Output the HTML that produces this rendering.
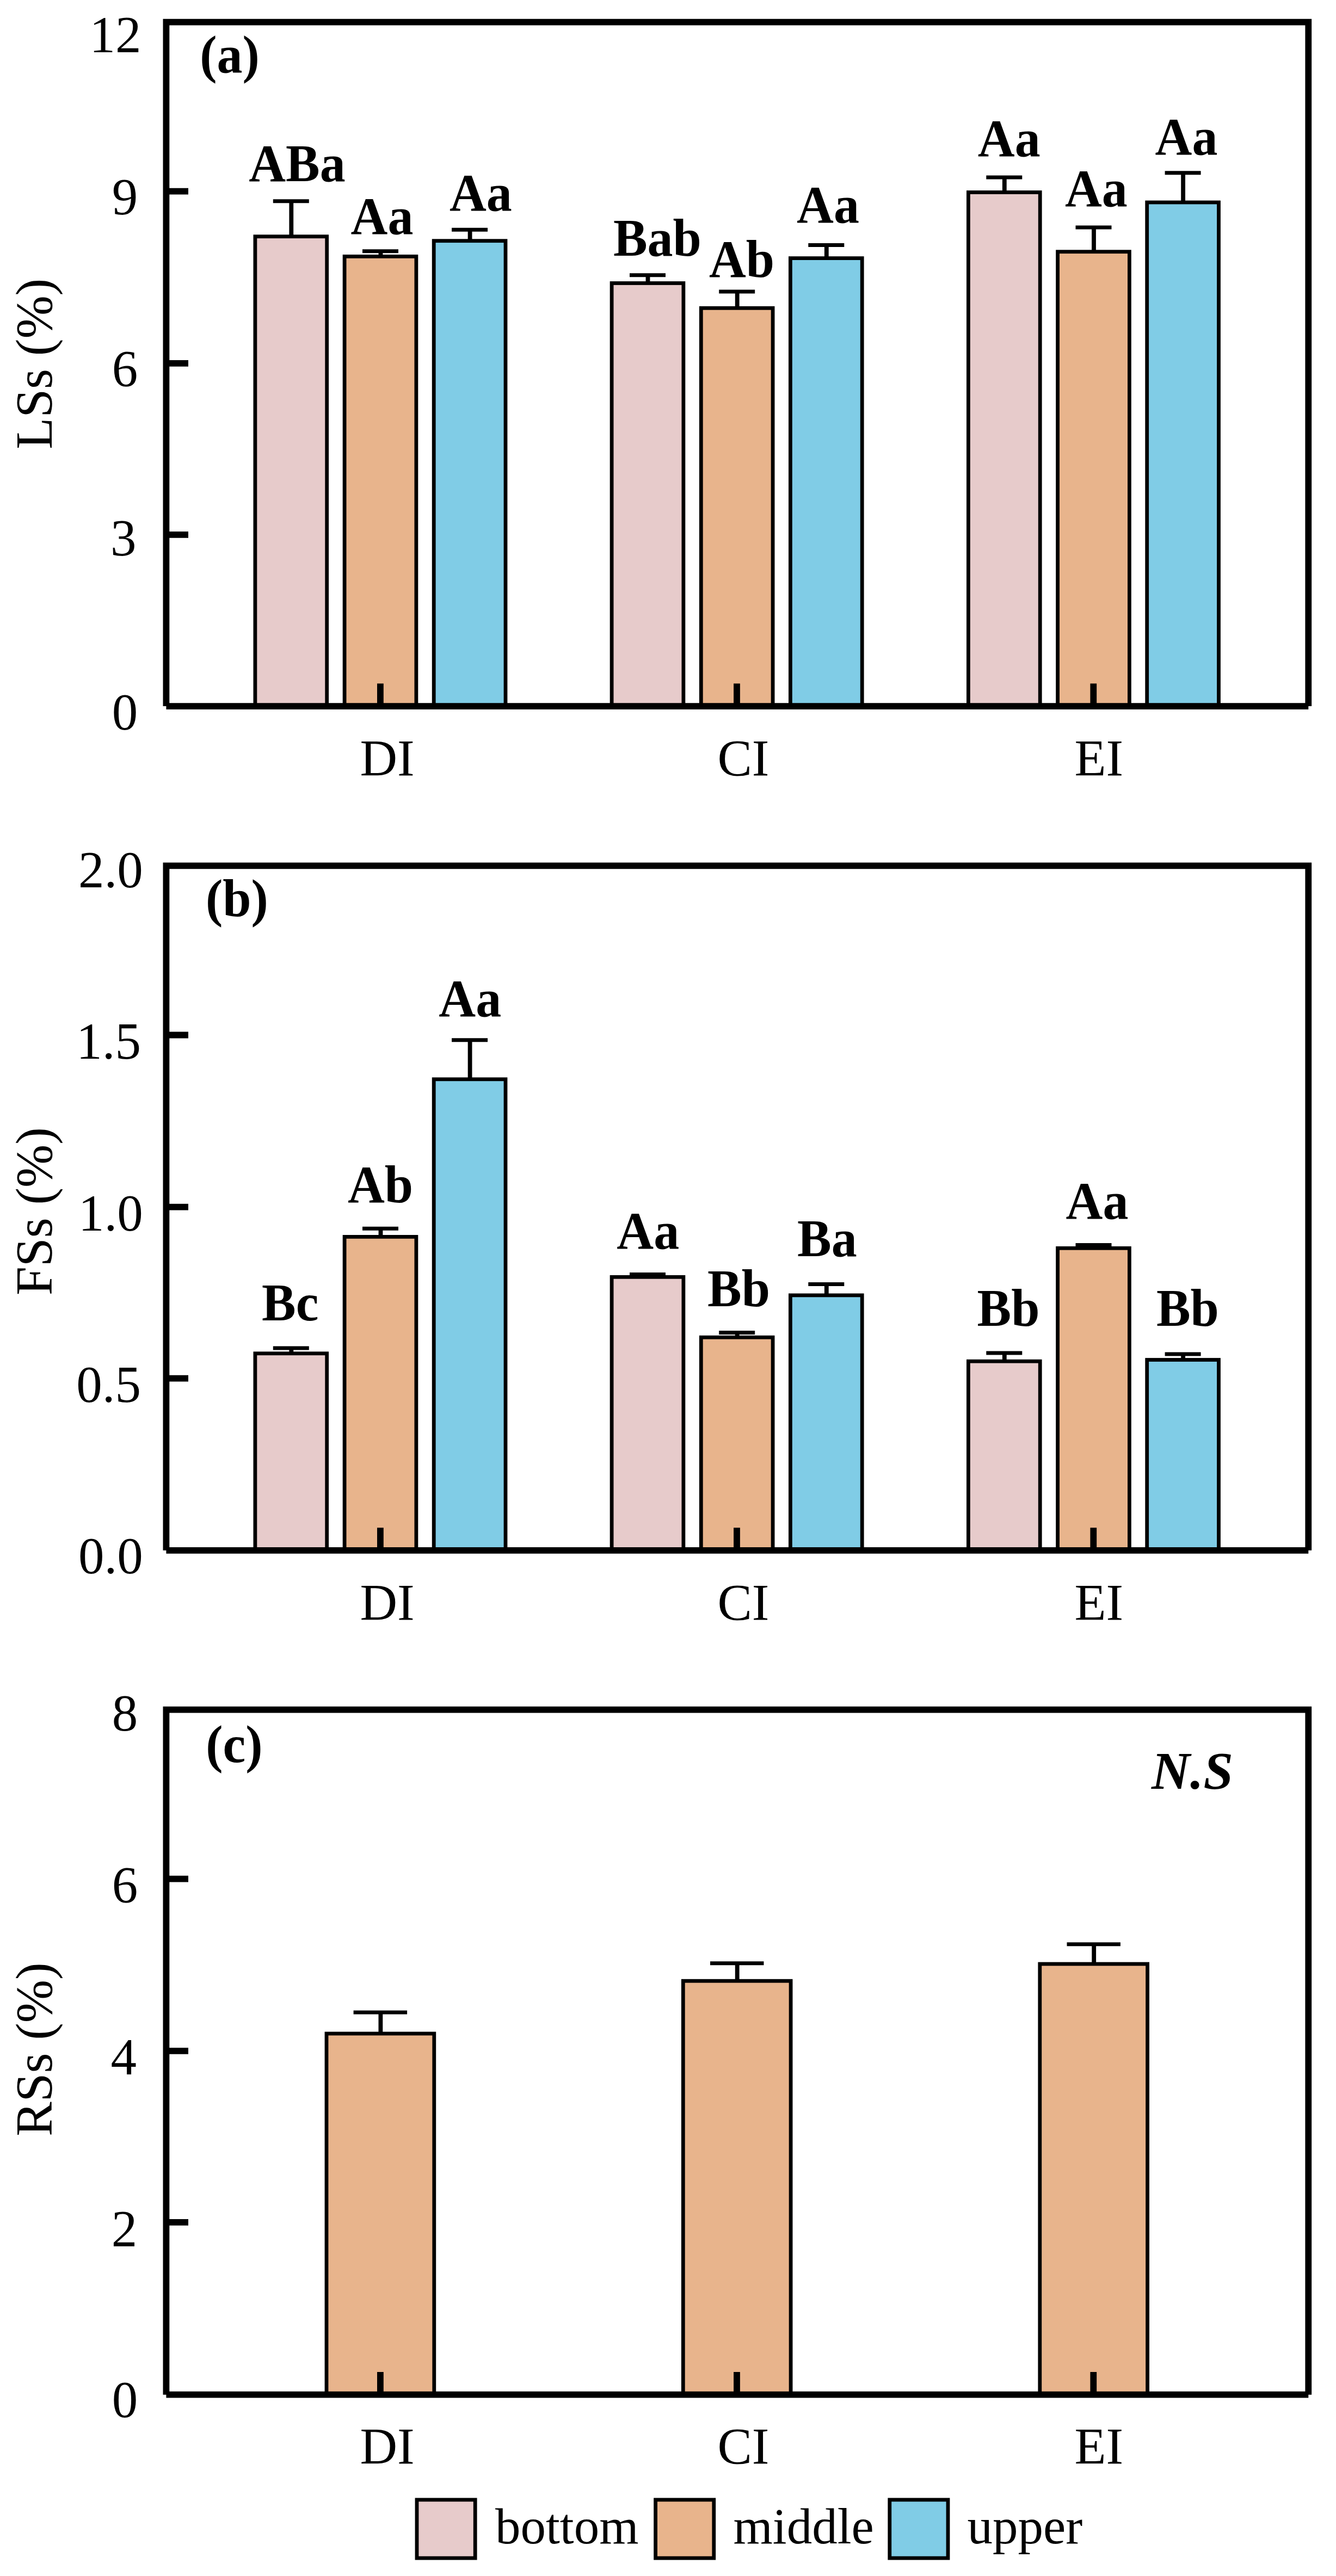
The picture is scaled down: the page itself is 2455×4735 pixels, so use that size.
<!DOCTYPE html>
<html><head><meta charset="utf-8"><title>Figure</title>
<style>html,body{margin:0;padding:0;background:#fff;overflow:hidden;width:2455px;height:4735px}svg{display:block}.r{font-family:"Liberation Serif",serif;font-size:95px;fill:#000}.b{font-family:"Liberation Serif",serif;font-size:94px;font-weight:bold;fill:#000}.bi{font-family:"Liberation Serif",serif;font-size:98px;font-weight:bold;font-style:italic;fill:#000}.l{font-family:"Liberation Serif",serif;font-size:93px;fill:#000}</style></head><body>
<svg width="2455" height="4735" viewBox="0 0 2455 4735">
<rect width="2455" height="4735" fill="#fff"/>
<rect x="468.9" y="434.7" width="131.8" height="863.4" fill="#E7CBCB" stroke="#000" stroke-width="6.8"/>
<path d="M535.3 434.7V369.7" fill="none" stroke="#000" stroke-width="7.8"/>
<path d="M501.8 369.7H567.8" fill="none" stroke="#000" stroke-width="7.0"/>
<rect x="633.1" y="471.4" width="131.8" height="826.7" fill="#E8B48C" stroke="#000" stroke-width="6.8"/>
<path d="M699.5 471.4V461.8" fill="none" stroke="#000" stroke-width="7.8"/>
<path d="M666.0 461.8H732.0" fill="none" stroke="#000" stroke-width="7.0"/>
<rect x="797.2" y="442.7" width="131.8" height="855.4" fill="#80CCE6" stroke="#000" stroke-width="6.8"/>
<path d="M863.6 442.7V422.3" fill="none" stroke="#000" stroke-width="7.8"/>
<path d="M830.1 422.3H896.1" fill="none" stroke="#000" stroke-width="7.0"/>
<rect x="1124.1" y="520.5" width="131.8" height="777.6" fill="#E7CBCB" stroke="#000" stroke-width="6.8"/>
<path d="M1190.5 520.5V505.8" fill="none" stroke="#000" stroke-width="7.8"/>
<path d="M1157.0 505.8H1223.0" fill="none" stroke="#000" stroke-width="7.0"/>
<rect x="1288.3" y="566.3" width="131.8" height="731.8" fill="#E8B48C" stroke="#000" stroke-width="6.8"/>
<path d="M1354.7 566.3V535.9" fill="none" stroke="#000" stroke-width="7.8"/>
<path d="M1321.2 535.9H1387.2" fill="none" stroke="#000" stroke-width="7.0"/>
<rect x="1452.4" y="474.6" width="131.8" height="823.5" fill="#80CCE6" stroke="#000" stroke-width="6.8"/>
<path d="M1518.8 474.6V450.6" fill="none" stroke="#000" stroke-width="7.8"/>
<path d="M1485.3 450.6H1551.3" fill="none" stroke="#000" stroke-width="7.0"/>
<rect x="1779.4" y="353.5" width="131.8" height="944.6" fill="#E7CBCB" stroke="#000" stroke-width="6.8"/>
<path d="M1845.8 353.5V325.9" fill="none" stroke="#000" stroke-width="7.8"/>
<path d="M1812.3 325.9H1878.3" fill="none" stroke="#000" stroke-width="7.0"/>
<rect x="1943.6" y="462.7" width="131.8" height="835.4" fill="#E8B48C" stroke="#000" stroke-width="6.8"/>
<path d="M2010.0 462.7V418.0" fill="none" stroke="#000" stroke-width="7.8"/>
<path d="M1976.5 418.0H2042.5" fill="none" stroke="#000" stroke-width="7.0"/>
<rect x="2107.7" y="372.0" width="131.8" height="926.1" fill="#80CCE6" stroke="#000" stroke-width="6.8"/>
<path d="M2174.1 372.0V317.8" fill="none" stroke="#000" stroke-width="7.8"/>
<path d="M2140.6 317.8H2206.6" fill="none" stroke="#000" stroke-width="7.0"/>
<line x1="698.9" y1="1298.1" x2="698.9" y2="1256.4" stroke="#000" stroke-width="11.8"/>
<line x1="1354.0" y1="1298.1" x2="1354.0" y2="1256.4" stroke="#000" stroke-width="11.8"/>
<line x1="2009.3" y1="1298.1" x2="2009.3" y2="1256.4" stroke="#000" stroke-width="11.8"/>
<path d="M305.4 1298.1V40.6H2404.3V1298.1" fill="none" stroke="#000" stroke-width="11.8" stroke-linejoin="miter"/>
<line x1="305.4" y1="1298.1" x2="2404.3" y2="1298.1" stroke="#000" stroke-width="11.8"/>
<line x1="305.4" y1="351.7" x2="346" y2="351.7" stroke="#000" stroke-width="11.8"/>
<line x1="305.4" y1="667.8" x2="346" y2="667.8" stroke="#000" stroke-width="11.8"/>
<line x1="305.4" y1="982.9" x2="346" y2="982.9" stroke="#000" stroke-width="11.8"/>
<text transform="translate(546.0 332.6) scale(1 1.025)" class="b" text-anchor="middle">ABa</text>
<text transform="translate(702.0 430.0) scale(1 1.025)" class="b" text-anchor="middle">Aa</text>
<text transform="translate(883.4 386.5) scale(1 1.025)" class="b" text-anchor="middle">Aa</text>
<text transform="translate(1207.9 470.4) scale(1 1.025)" class="b" text-anchor="middle">Bab</text>
<text transform="translate(1363.0 508.6) scale(1 1.025)" class="b" text-anchor="middle">Ab</text>
<text transform="translate(1521.5 408.5) scale(1 1.025)" class="b" text-anchor="middle">Aa</text>
<text transform="translate(1854.3 287.4) scale(1 1.025)" class="b" text-anchor="middle">Aa</text>
<text transform="translate(2014.4 378.5) scale(1 1.025)" class="b" text-anchor="middle">Aa</text>
<text transform="translate(2180.0 284.2) scale(1 1.025)" class="b" text-anchor="middle">Aa</text>
<rect x="468.9" y="2487.8" width="131.8" height="362.0" fill="#E7CBCB" stroke="#000" stroke-width="6.8"/>
<path d="M535.3 2487.8V2478.1" fill="none" stroke="#000" stroke-width="7.8"/>
<path d="M501.8 2478.1H567.8" fill="none" stroke="#000" stroke-width="7.0"/>
<rect x="633.1" y="2273.4" width="131.8" height="576.4" fill="#E8B48C" stroke="#000" stroke-width="6.8"/>
<path d="M699.5 2273.4V2258.2" fill="none" stroke="#000" stroke-width="7.8"/>
<path d="M666.0 2258.2H732.0" fill="none" stroke="#000" stroke-width="7.0"/>
<rect x="797.2" y="1983.8" width="131.8" height="866.0" fill="#80CCE6" stroke="#000" stroke-width="6.8"/>
<path d="M863.6 1983.8V1911.7" fill="none" stroke="#000" stroke-width="7.8"/>
<path d="M830.1 1911.7H896.1" fill="none" stroke="#000" stroke-width="7.0"/>
<rect x="1124.1" y="2347.3" width="131.8" height="502.5" fill="#E7CBCB" stroke="#000" stroke-width="6.8"/>
<path d="M1190.5 2347.3V2342.5" fill="none" stroke="#000" stroke-width="7.8"/>
<path d="M1157.0 2342.5H1223.0" fill="none" stroke="#000" stroke-width="7.0"/>
<rect x="1288.3" y="2458.2" width="131.8" height="391.6" fill="#E8B48C" stroke="#000" stroke-width="6.8"/>
<path d="M1354.7 2458.2V2449.4" fill="none" stroke="#000" stroke-width="7.8"/>
<path d="M1321.2 2449.4H1387.2" fill="none" stroke="#000" stroke-width="7.0"/>
<rect x="1452.4" y="2380.9" width="131.8" height="468.9" fill="#80CCE6" stroke="#000" stroke-width="6.8"/>
<path d="M1518.8 2380.9V2360.5" fill="none" stroke="#000" stroke-width="7.8"/>
<path d="M1485.3 2360.5H1551.3" fill="none" stroke="#000" stroke-width="7.0"/>
<rect x="1779.4" y="2502.2" width="131.8" height="347.6" fill="#E7CBCB" stroke="#000" stroke-width="6.8"/>
<path d="M1845.8 2502.2V2487.1" fill="none" stroke="#000" stroke-width="7.8"/>
<path d="M1812.3 2487.1H1878.3" fill="none" stroke="#000" stroke-width="7.0"/>
<rect x="1943.6" y="2294.3" width="131.8" height="555.5" fill="#E8B48C" stroke="#000" stroke-width="6.8"/>
<path d="M2010.0 2294.3V2288.6" fill="none" stroke="#000" stroke-width="7.8"/>
<path d="M1976.5 2288.6H2042.5" fill="none" stroke="#000" stroke-width="7.0"/>
<rect x="2107.7" y="2499.5" width="131.8" height="350.3" fill="#80CCE6" stroke="#000" stroke-width="6.8"/>
<path d="M2174.1 2499.5V2488.9" fill="none" stroke="#000" stroke-width="7.8"/>
<path d="M2140.6 2488.9H2206.6" fill="none" stroke="#000" stroke-width="7.0"/>
<line x1="698.9" y1="2849.8" x2="698.9" y2="2808.1" stroke="#000" stroke-width="11.8"/>
<line x1="1354.0" y1="2849.8" x2="1354.0" y2="2808.1" stroke="#000" stroke-width="11.8"/>
<line x1="2009.3" y1="2849.8" x2="2009.3" y2="2808.1" stroke="#000" stroke-width="11.8"/>
<path d="M305.4 2849.8V1591.4H2404.3V2849.8" fill="none" stroke="#000" stroke-width="11.8" stroke-linejoin="miter"/>
<line x1="305.4" y1="2849.8" x2="2404.3" y2="2849.8" stroke="#000" stroke-width="11.8"/>
<line x1="305.4" y1="1902.5" x2="346" y2="1902.5" stroke="#000" stroke-width="11.8"/>
<line x1="305.4" y1="2218.6" x2="346" y2="2218.6" stroke="#000" stroke-width="11.8"/>
<line x1="305.4" y1="2533.7" x2="346" y2="2533.7" stroke="#000" stroke-width="11.8"/>
<text transform="translate(533.2 2427.0) scale(1 1.025)" class="b" text-anchor="middle">Bc</text>
<text transform="translate(699.0 2210.0) scale(1 1.025)" class="b" text-anchor="middle">Ab</text>
<text transform="translate(863.7 1867.8) scale(1 1.025)" class="b" text-anchor="middle">Aa</text>
<text transform="translate(1190.8 2295.0) scale(1 1.025)" class="b" text-anchor="middle">Aa</text>
<text transform="translate(1357.5 2401.0) scale(1 1.025)" class="b" text-anchor="middle">Bb</text>
<text transform="translate(1519.8 2308.9) scale(1 1.025)" class="b" text-anchor="middle">Ba</text>
<text transform="translate(1853.0 2436.9) scale(1 1.025)" class="b" text-anchor="middle">Bb</text>
<text transform="translate(2016.0 2240.2) scale(1 1.025)" class="b" text-anchor="middle">Aa</text>
<text transform="translate(2182.4 2436.9) scale(1 1.025)" class="b" text-anchor="middle">Bb</text>
<rect x="600.0" y="3738.0" width="197.8" height="663.7" fill="#E8B48C" stroke="#000" stroke-width="6.8"/>
<path d="M699.4 3738.0V3699.0" fill="none" stroke="#000" stroke-width="7.8"/>
<path d="M649.6 3699.0H748.1" fill="none" stroke="#000" stroke-width="7.0"/>
<rect x="1255.3" y="3641.2" width="197.8" height="760.5" fill="#E8B48C" stroke="#000" stroke-width="6.8"/>
<path d="M1354.7 3641.2V3608.7" fill="none" stroke="#000" stroke-width="7.8"/>
<path d="M1305.0 3608.7H1403.5" fill="none" stroke="#000" stroke-width="7.0"/>
<rect x="1910.8" y="3610.0" width="197.8" height="791.7" fill="#E8B48C" stroke="#000" stroke-width="6.8"/>
<path d="M2010.2 3610.0V3573.8" fill="none" stroke="#000" stroke-width="7.8"/>
<path d="M1960.5 3573.8H2058.9" fill="none" stroke="#000" stroke-width="7.0"/>
<line x1="698.9" y1="4401.7" x2="698.9" y2="4360.0" stroke="#000" stroke-width="11.8"/>
<line x1="1354.0" y1="4401.7" x2="1354.0" y2="4360.0" stroke="#000" stroke-width="11.8"/>
<line x1="2009.3" y1="4401.7" x2="2009.3" y2="4360.0" stroke="#000" stroke-width="11.8"/>
<path d="M305.4 4401.7V3142.6H2404.3V4401.7" fill="none" stroke="#000" stroke-width="11.8" stroke-linejoin="miter"/>
<line x1="305.4" y1="4401.7" x2="2404.3" y2="4401.7" stroke="#000" stroke-width="11.8"/>
<line x1="305.4" y1="3453.7" x2="346" y2="3453.7" stroke="#000" stroke-width="11.8"/>
<line x1="305.4" y1="3769.8" x2="346" y2="3769.8" stroke="#000" stroke-width="11.8"/>
<line x1="305.4" y1="4084.9" x2="346" y2="4084.9" stroke="#000" stroke-width="11.8"/>
<text transform="translate(422.0 133.0) scale(1 1.025)" class="b" text-anchor="middle">(a)</text>
<text transform="translate(435.4 1684.4) scale(1 1.025)" class="b" text-anchor="middle">(b)</text>
<text transform="translate(430.3 3238.5) scale(1 1.025)" class="b" text-anchor="middle">(c)</text>
<text x="2191" y="3288" class="bi" text-anchor="middle">N.S</text>
<text x="259.6" y="95.5" class="r" text-anchor="end">12</text>
<text x="253.3" y="394.3" class="r" text-anchor="end">9</text>
<text x="253.3" y="710.3" class="r" text-anchor="end">6</text>
<text x="250.5" y="1021.0" class="r" text-anchor="end">3</text>
<text x="253.3" y="1340.6" class="r" text-anchor="end">0</text>
<text x="262.8" y="1630.5" class="r" text-anchor="end">2.0</text>
<text x="258.9" y="1946.0" class="r" text-anchor="end">1.5</text>
<text x="262.8" y="2261.5" class="r" text-anchor="end">1.0</text>
<text x="258.9" y="2576.8" class="r" text-anchor="end">0.5</text>
<text x="262.8" y="2892.4" class="r" text-anchor="end">0.0</text>
<text x="253.3" y="3181.0" class="r" text-anchor="end">8</text>
<text x="253.3" y="3497.0" class="r" text-anchor="end">6</text>
<text x="251.1" y="3813.0" class="r" text-anchor="end">4</text>
<text x="252.3" y="4128.6" class="r" text-anchor="end">2</text>
<text x="253.3" y="4443.4" class="r" text-anchor="end">0</text>
<text x="711.6" y="1425.9" class="r" text-anchor="middle">DI</text>
<text x="1366.0" y="1425.9" class="r" text-anchor="middle">CI</text>
<text x="2019.3" y="1425.9" class="r" text-anchor="middle">EI</text>
<text x="711.6" y="2977.6" class="r" text-anchor="middle">DI</text>
<text x="1366.0" y="2977.6" class="r" text-anchor="middle">CI</text>
<text x="2019.3" y="2977.6" class="r" text-anchor="middle">EI</text>
<text x="711.6" y="4528.9" class="r" text-anchor="middle">DI</text>
<text x="1366.0" y="4528.9" class="r" text-anchor="middle">CI</text>
<text x="2019.3" y="4528.9" class="r" text-anchor="middle">EI</text>
<text transform="translate(95.4 668.8) rotate(-90)" class="r" text-anchor="middle">LSs (%)</text>
<text transform="translate(95.4 2226.6) rotate(-90)" class="r" text-anchor="middle">FSs (%)</text>
<text transform="translate(95.4 3767.1) rotate(-90)" class="r" text-anchor="middle">RSs (%)</text>
<rect x="766.0" y="4594.9" width="107.2" height="107.2" fill="#E7CBCB" stroke="#000" stroke-width="6.8"/>
<rect x="1204.6" y="4594.9" width="107.2" height="107.2" fill="#E8B48C" stroke="#000" stroke-width="6.8"/>
<rect x="1634.8" y="4594.9" width="107.2" height="107.2" fill="#80CCE6" stroke="#000" stroke-width="6.8"/>
<text x="910.0" y="4675.2" class="l" text-anchor="start">bottom</text>
<text x="1347.5" y="4675.2" class="l" text-anchor="start">middle</text>
<text x="1777.5" y="4675.2" class="l" text-anchor="start">upper</text>
</svg></body></html>
